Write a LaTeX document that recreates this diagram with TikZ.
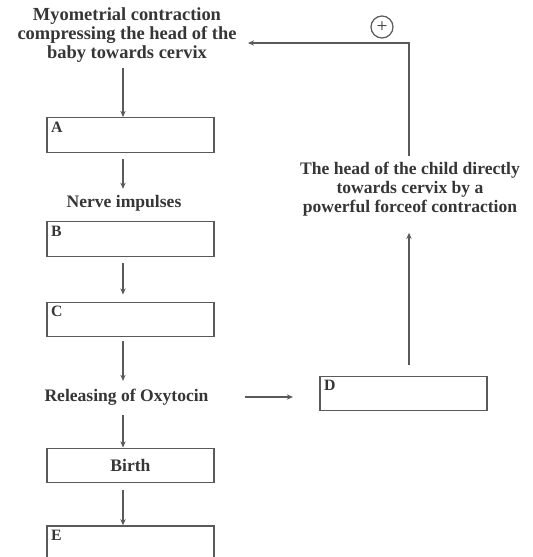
\documentclass[tikz,border=0pt]{standalone}
\usepackage{fontspec}
\setmainfont{Liberation Serif}
\usetikzlibrary{arrows.meta}
\definecolor{inkgray}{HTML}{363636}
\definecolor{linegray}{HTML}{5A5A5A}
\tikzset{
    every node/.style={text=inkgray, font=\bfseries\fontsize{10}{11}\selectfont},
    stagebox/.style={draw=linegray, line width=0.8pt, minimum width=3.34cm,
    	minimum height=0.69cm},
    boxlabel/.style={label={[anchor=north west, inner sep=2.5pt,
    	font=\bfseries\fontsize{9}{10}\selectfont]north west:#1}},
    flow/.style={draw=linegray, line width=0.7pt,
    	-{Stealth[length=3.5pt, width=3pt]}}
}

\begin{document}
\begin{tikzpicture}[x=0.02cm, y=-0.02cm]
	\useasboundingbox (0,0) rectangle (532,557);
	\coordinate (spine) at (123,0);
	\coordinate (riser) at (409,0);
	\node [align=center, font=\bfseries\fontsize{10.5}{8.8}\selectfont] (myo) at (127,35)
		{Myometrial contraction\\compressing the head of the\\baby towards cervix};
	\node [stagebox, boxlabel=A] (a) at (130.5,135) {};
	\node (nerve) at (124,203) {Nerve impulses};
	\node [stagebox, boxlabel=B] (b) at (130.5,239) {};
	\node [stagebox, boxlabel=C] (c) at (130.5,319.5) {};
	\node (oxy) at (126.5,397) {Releasing of Oxytocin};
	\node [stagebox] (birth) at (130.5,465.5) {Birth};
	\node [stagebox, minimum height=0.72cm, boxlabel=E] (e) at (130.5,544) {};
	\node [stagebox, boxlabel=D] (d) at (403.5,393.5) {};
	\node [align=center, font=\bfseries\fontsize{10}{10.8}\selectfont] (head) at (410,189)
		{The head of the child directly\\towards cervix by a\\powerful forceof contraction};
	\node [circle, draw=linegray, line width=0.7pt, minimum size=0.44cm, inner sep=0pt,
		font=\fontsize{11}{11}\selectfont] (plus) at (382,27) {+};
	\draw [flow] (myo.south -| spine) -- (a.north -| spine);
	\draw [flow, shorten <=3.5pt] (a.south -| spine) -- (nerve.north -| spine);
	\draw [flow, shorten <=3.5pt, shorten >=4pt] (b.south -| spine) -- (c.north -| spine);
	\draw [flow, shorten <=2pt, shorten >=1pt] (c.south -| spine) -- (oxy.north -| spine);
	\draw [flow, shorten <=2pt] (oxy.south -| spine) -- (birth.north -| spine);
	\draw [flow, shorten <=3.5pt] (birth.south -| spine) -- (e.north -| spine);
	\draw [flow, shorten <=17pt, shorten >=15pt] (oxy.east) -- (oxy.east -| d.west);
	\draw [flow, shorten <=6pt, shorten >=6pt] (d.north -| riser) -- (head.south -| riser);
	\draw [flow, shorten >=3pt] (head.north -| riser) |- ([yshift=-0.16cm]myo.east);
\end{tikzpicture}
\end{document}
